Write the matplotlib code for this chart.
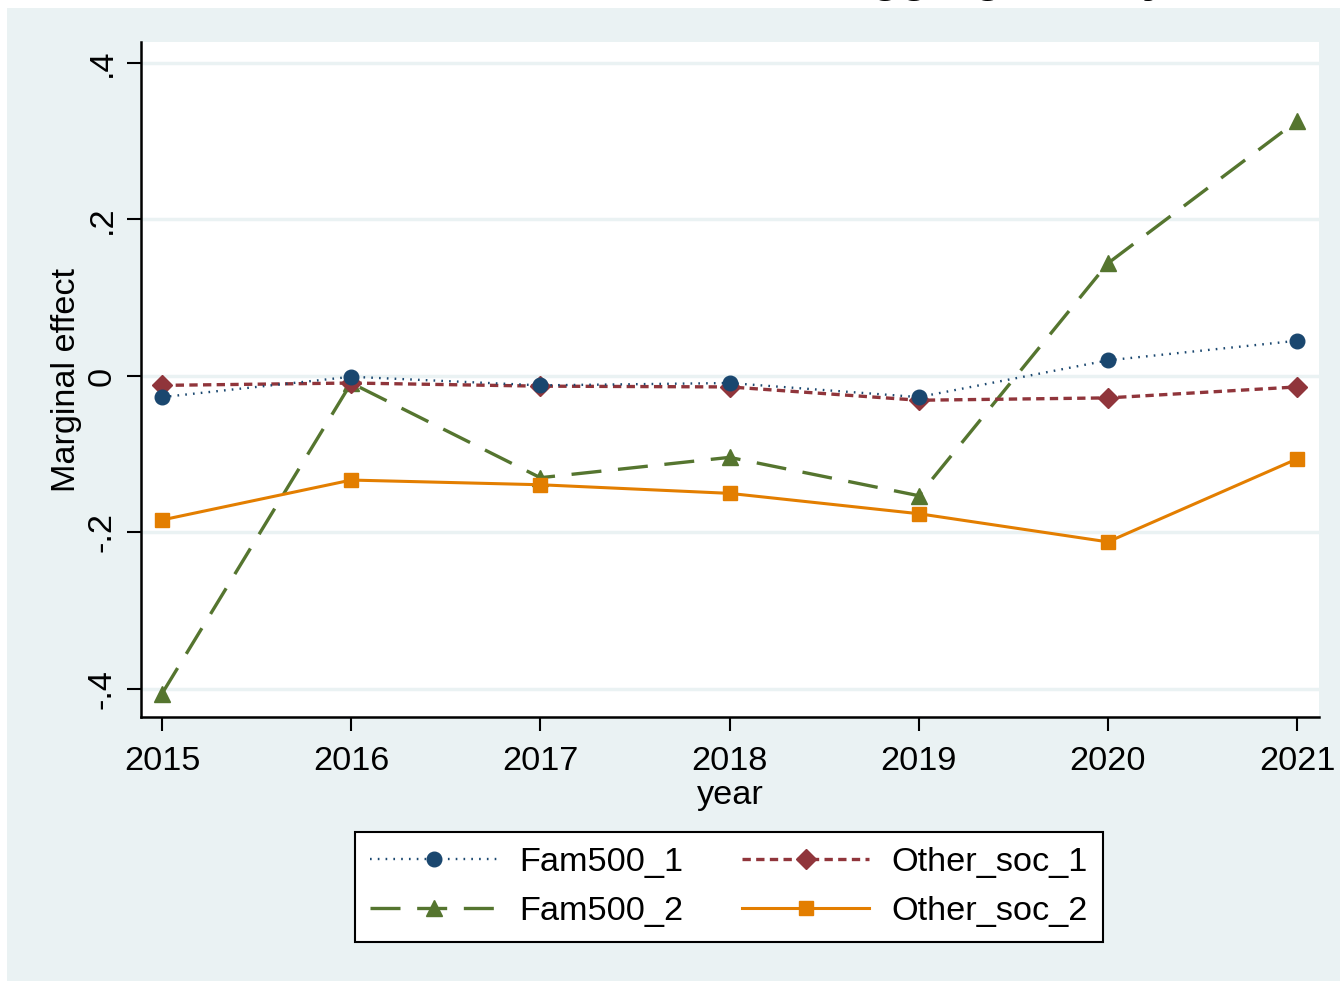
import matplotlib
matplotlib.use("Agg")
import matplotlib.pyplot as plt
from matplotlib.patches import Rectangle

# Data
years = [2015, 2016, 2017, 2018, 2019, 2020, 2021]
fam500_1 = [-0.027, -0.001, -0.012, -0.009, -0.027, 0.020, 0.045]
other_soc_1 = [-0.012, -0.009, -0.013, -0.014, -0.031, -0.028, -0.014]
fam500_2 = [-0.406, -0.009, -0.130, -0.104, -0.153, 0.144, 0.326]
other_soc_2 = [-0.184, -0.133, -0.139, -0.150, -0.176, -0.212, -0.106]

ytick_vals = [-0.4, -0.2, 0, 0.2, 0.4]
ytick_labels = ["-.4", "-.2", "0", ".2", ".4"]

navy = "#1a476f"
maroon = "#90353b"
green = "#55752f"
orange = "#e37e00"
bg = "#eaf2f3"

plt.rcParams["font.family"] = ["Liberation Sans", "DejaVu Sans"]

W, H = 1340, 982
fs = 24.7
fig = plt.figure(figsize=(W / 100, H / 100), dpi=100, facecolor="white")

# Stata-style outer background
fig.patches.append(Rectangle((7 / W, 1 - 981 / H), 1 - 7 / W, (981 - 8) / H,
                             transform=fig.transFigure, facecolor=bg,
                             edgecolor="none", zorder=-10))

# Title, only its descenders show at the top edge (as in the reference)
fig.text(1168 / W, 1 + 9 / H, "Treatment effects disaggregated by", ha="right",
         va="baseline", fontsize=34, fontweight="bold")

ax = fig.add_axes([141 / W, 1 - 717 / H, (1319 - 141) / W, (717 - 42) / H])
ax.set_facecolor("white")

ax.plot(years, fam500_1, color=navy, linestyle=(0, (0.7, 2.6)), lw=1.7,
        marker="o", markersize=10.5, label="Fam500_1", zorder=4)
ax.plot(years, other_soc_1, color=maroon, linestyle=(0, (2.5, 1.6)), lw=2.4,
        marker="D", markersize=10, label="Other_soc_1", zorder=3)
ax.plot(years, fam500_2, color=green, linestyle=(0, (9, 5)), lw=2.4,
        marker="^", markersize=12, label="Fam500_2", zorder=2)
ax.plot(years, other_soc_2, color=orange, linestyle="-", lw=2.2,
        marker="s", markersize=10, label="Other_soc_2", zorder=2)

ax.set_xlim(2014.889, 2021.116)
ax.set_ylim(-0.4358, 0.4268)

ax.set_yticks(ytick_vals)
ax.set_yticklabels(ytick_labels, rotation=90, va="center")
ax.set_xticks(years)
ax.set_xticklabels([str(y) for y in years])

ax.yaxis.grid(True, color=bg, lw=2.5)
ax.set_axisbelow(True)

for s in ["top", "right"]:
    ax.spines[s].set_visible(False)
for s in ["left", "bottom"]:
    ax.spines[s].set_linewidth(1.8)
    ax.spines[s].set_color("black")

ax.tick_params(axis="both", direction="out", length=10, width=1.5,
               labelsize=fs)
ax.tick_params(axis="x", pad=11)
ax.tick_params(axis="y", pad=7)

ax.set_xlabel("year", fontsize=fs, labelpad=2)
ax.set_ylabel("Marginal effect", fontsize=fs, labelpad=3)

handles, labels = ax.get_legend_handles_labels()
order = [0, 2, 1, 3]
leg = fig.legend([handles[i] for i in order], [labels[i] for i in order],
                 ncol=2, loc="center", bbox_to_anchor=(729 / W, 1 - 887 / H),
                 fontsize=fs, frameon=True, fancybox=False, framealpha=1,
                 edgecolor="black", handlelength=3.7, handletextpad=0.65,
                 columnspacing=1.7, borderpad=0.45, labelspacing=0.5)
leg.get_frame().set_linewidth(1.5)

fig.savefig("out.png", dpi=100, facecolor="white")
